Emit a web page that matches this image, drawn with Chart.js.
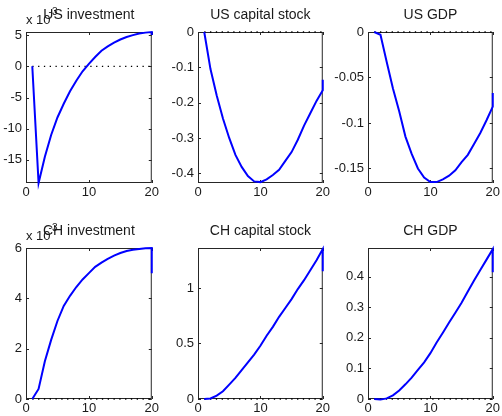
<!DOCTYPE html>
<html>
<head>
<meta charset="utf-8">
<title>Impulse responses</title>
<script src="https://cdn.jsdelivr.net/npm/chart.js@4.4.0/dist/chart.umd.min.js"></script>
<style>
  html, body { margin: 0; padding: 0; background: #fff; }
  body { width: 502px; height: 416px; position: relative; overflow: hidden; }
  canvas { position: absolute; }
</style>
</head>
<body>
<script>
// horizon (last period repeated: the plotted series end with a jump at 20)
const periods = [1, 2, 3, 4, 5, 6, 7, 8, 9, 10, 11, 12, 13, 14, 15, 16, 17, 18, 19, 20, 20];
const xTicks = [0, 10, 20];
const xRange = [0, 20];

// responses (investment series in units of 10^-3)
const usInvestment = [0, -18.7, -14.5, -11.0, -8.2, -6.0, -4.0, -2.3, -0.8, 0.4, 1.5, 2.5, 3.2, 3.8, 4.3, 4.7, 5.0, 5.25, 5.4, 5.5, 5.0];
const usCapital = [0, -0.105, -0.18, -0.245, -0.30, -0.348, -0.382, -0.408, -0.423, -0.425, -0.417, -0.405, -0.39, -0.365, -0.34, -0.305, -0.265, -0.23, -0.195, -0.165, -0.135];
const usGdp = [0, -0.003, -0.033, -0.062, -0.087, -0.115, -0.134, -0.150, -0.160, -0.165, -0.165, -0.162, -0.158, -0.152, -0.143, -0.135, -0.123, -0.111, -0.097, -0.082, -0.067];
const chInvestment = [0, 0.4, 1.5, 2.35, 3.1, 3.7, 4.1, 4.45, 4.75, 5.0, 5.25, 5.42, 5.57, 5.7, 5.8, 5.88, 5.93, 5.96, 5.99, 6.0, 5.0];
const chCapital = [0, 0.005, 0.03, 0.07, 0.13, 0.19, 0.26, 0.33, 0.40, 0.48, 0.57, 0.65, 0.74, 0.82, 0.90, 0.99, 1.07, 1.16, 1.25, 1.35, 1.15];
const chGdp = [0, -0.002, 0.002, 0.012, 0.028, 0.048, 0.07, 0.095, 0.12, 0.15, 0.185, 0.217, 0.25, 0.282, 0.315, 0.352, 0.388, 0.422, 0.456, 0.49, 0.415];

// y axis limits and tick labels
const usInvestmentRange = [-18.7, 5.5];
const usCapitalRange = [-0.4275, 0];
const usGdpRange = [-0.166, 0];
const chInvestmentRange = [0, 6];
const chCapitalRange = [0, 1.36];
const chGdpRange = [0, 0.494];

const usInvestmentTicks = [-15, -10, -5, 0, 5];
const usCapitalTicks = [-0.4, -0.3, -0.2, -0.1, 0];
const usGdpTicks = [-0.15, -0.1, -0.05, 0];
const chInvestmentTicks = [0, 2, 4, 6];
const chCapitalTicks = [0, 0.5, 1];
const chGdpTicks = [0, 0.1, 0.2, 0.3, 0.4];

const FONT = "'Liberation Sans', Arial, sans-serif";
const TEXT = '#1a1a1a';
const TITLE_H = 32;
const XAXIS_H = 17;
const RIGHT_PAD = 8;

// plot boxes [left, top, right, bottom] in page pixels
const panels = [
  { title: 'US investment', values: usInvestment, range: usInvestmentRange, ticks: usInvestmentTicks, box: [26, 32, 153, 183], note: '-3' },
  { title: 'US capital stock', values: usCapital, range: usCapitalRange, ticks: usCapitalTicks, box: [198, 32, 324, 183] },
  { title: 'US GDP', values: usGdp, range: usGdpRange, ticks: usGdpTicks, box: [368, 32, 494, 183] },
  { title: 'CH investment', values: chInvestment, range: chInvestmentRange, ticks: chInvestmentTicks, box: [26, 248, 153, 399], note: '-3' },
  { title: 'CH capital stock', values: chCapital, range: chCapitalRange, ticks: chCapitalTicks, box: [198, 248, 324, 399] },
  { title: 'CH GDP', values: chGdp, range: chGdpRange, ticks: chGdpTicks, box: [368, 248, 494, 399] }
];

// MATLAB-like box with inward tick marks, drawn under the lines
const matlabAxes = {
  id: 'matlabAxes',
  beforeDatasetsDraw(chart) {
    const { ctx, chartArea: a, scales: { x, y } } = chart;
    const len = 3;
    ctx.save();
    ctx.strokeStyle = '#262626';
    ctx.lineWidth = 1;
    ctx.beginPath();
    x.ticks.forEach(t => {
      const px = Math.round(x.getPixelForValue(t.value)) + 0.5;
      ctx.moveTo(px, a.bottom); ctx.lineTo(px, a.bottom - len);
      ctx.moveTo(px, a.top); ctx.lineTo(px, a.top + len);
    });
    y.ticks.forEach(t => {
      const py = Math.round(y.getPixelForValue(t.value)) + 0.5;
      ctx.moveTo(a.left, py); ctx.lineTo(a.left + len, py);
      ctx.moveTo(a.right, py); ctx.lineTo(a.right - len, py);
    });
    ctx.stroke();
    ctx.strokeRect(a.left + 0.5, a.top + 0.5, a.right - a.left - 1, a.bottom - a.top - 1);
    ctx.restore();
  }
};

// "x 10^-3" multiplier above the y axis
const scaleNote = {
  id: 'scaleNote',
  afterDraw(chart, args, opts) {
    if (!opts.exponent) return;
    const { ctx, chartArea: a } = chart;
    ctx.save();
    ctx.fillStyle = TEXT;
    ctx.textBaseline = 'alphabetic';
    ctx.textAlign = 'left';
    ctx.font = '13px ' + FONT;
    ctx.fillText('x 10', a.left, a.top - 8);
    const w = ctx.measureText('x 10').width;
    ctx.font = '10px ' + FONT;
    ctx.fillText(opts.exponent, a.left + w - 2, a.top - 17);
    ctx.restore();
  }
};

function buildPanel(p) {
  const [L, T, R, B] = p.box;
  const yw = L < 40 ? L : 44;
  const canvas = document.createElement('canvas');
  canvas.width = yw + (R - L) + RIGHT_PAD;
  canvas.height = TITLE_H + (B - T) + XAXIS_H;
  canvas.style.left = (L - yw) + 'px';
  canvas.style.top = (T - TITLE_H) + 'px';
  document.body.appendChild(canvas);

  const points = periods.map((t, i) => ({ x: t, y: p.values[i] }));
  const zeroLine = [{ x: periods[0], y: 0 }, { x: periods[periods.length - 1], y: 0 }];

  return new Chart(canvas, {
    type: 'line',
    data: {
      datasets: [
        { data: points, borderColor: '#0000ff', borderWidth: 2, pointRadius: 0, tension: 0, clip: false },
        { data: zeroLine, borderColor: '#000', borderWidth: 1.3, borderDash: [1.3, 4.5], pointRadius: 0, clip: false }
      ]
    },
    options: {
      responsive: false,
      animation: false,
      events: [],
      layout: { padding: { top: 0, right: RIGHT_PAD, bottom: 0, left: 0 } },
      plugins: {
        legend: { display: false },
        tooltip: { enabled: false },
        title: {
          display: true,
          text: p.title,
          fullSize: false,
          color: TEXT,
          font: { family: FONT, size: 14, weight: 'normal', lineHeight: '16px' },
          padding: { top: 7, bottom: 9 }
        },
        scaleNote: { exponent: p.note || null }
      },
      scales: {
        x: {
          type: 'linear',
          min: xRange[0],
          max: xRange[1],
          grid: { display: false, drawTicks: false },
          border: { display: false },
          ticks: { color: TEXT, font: { family: FONT, size: 13 }, padding: 2, maxRotation: 0, callback: v => String(v) },
          afterBuildTicks: s => { s.ticks = xTicks.map(v => ({ value: v })); },
          afterFit: s => { s.height = XAXIS_H; }
        },
        y: {
          type: 'linear',
          min: p.range[0],
          max: p.range[1],
          grid: { display: false, drawTicks: false },
          border: { display: false },
          ticks: { color: TEXT, font: { family: FONT, size: 13 }, padding: 4, callback: v => String(v) },
          afterBuildTicks: s => { s.ticks = p.ticks.map(v => ({ value: v })); },
          afterFit: s => { s.width = yw; }
        }
      }
    },
    plugins: [matlabAxes, scaleNote]
  });
}

panels.forEach(buildPanel);
</script>
</body>
</html>
